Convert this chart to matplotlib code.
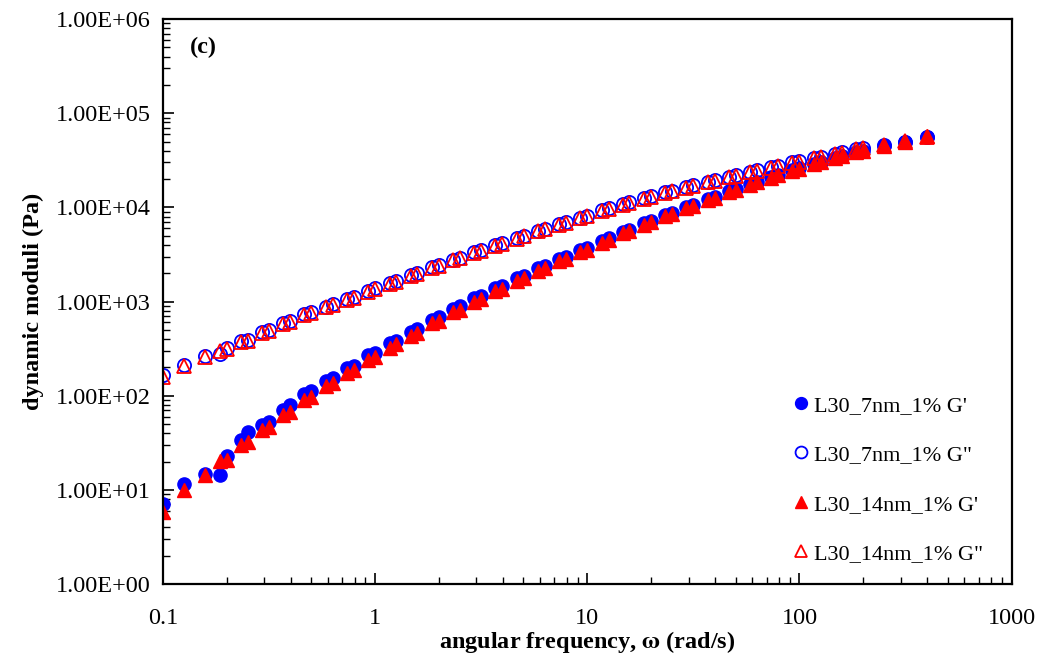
import matplotlib
matplotlib.use("Agg")
import matplotlib.pyplot as plt
from matplotlib.ticker import FuncFormatter, FixedLocator, LogLocator, NullFormatter

# angular frequency sweep (rad/s)
freq = [0.1, 0.126, 0.158, 0.185, 0.2, 0.233, 0.251, 0.293, 0.316, 0.369, 0.398,
        0.464, 0.501, 0.585, 0.631, 0.736, 0.794, 0.927, 1.0, 1.17, 1.26, 1.47,
        1.58, 1.85, 2.0, 2.33, 2.51, 2.93, 3.16, 3.69, 3.98, 4.64, 5.01, 5.85,
        6.31, 7.36, 7.94, 9.27, 10.0, 11.7, 12.6, 14.7, 15.8, 18.5, 20.0, 23.3,
        25.1, 29.3, 31.6, 36.9, 39.8, 46.4, 50.1, 58.5, 63.1, 73.6, 79.4, 92.7,
        100, 117, 126, 147, 158, 185, 200, 251, 316, 398]

# storage modulus G' (Pa)
g1_7nm = [7.0, 11.5, 14.8, 14.5, 23, 34, 41, 49, 52, 70, 80,
          105, 112, 145, 155, 195, 205, 270, 285, 360, 385, 480,
          510, 640, 680, 840, 890, 1080, 1140, 1380, 1460, 1760, 1860, 2250,
          2380, 2800, 2950, 3500, 3700, 4400, 4700, 5500, 5800, 6800, 7200, 8300,
          8800, 10000, 10600, 12200, 12900, 14800, 15600, 17700, 18700, 21000, 22200, 24800,
          26000, 29000, 30500, 33500, 35000, 38500, 40000, 44700, 49500, 56000]
g1_14nm = [5.8, 10.0, 14.5, 20.5, 21, 30, 32, 43, 46, 62, 68,
           90, 98, 128, 138, 175, 188, 240, 258, 325, 350, 435,
           465, 585, 625, 770, 820, 1000, 1060, 1290, 1370, 1660, 1760, 2130,
           2260, 2680, 2830, 3350, 3550, 4200, 4500, 5300, 5600, 6550, 6950, 8050,
           8550, 9750, 10400, 11900, 12600, 14500, 15300, 17400, 18400, 20700, 21900, 24500,
           25700, 28700, 30200, 33200, 34800, 38300, 39800, 45000, 50000, 57000]

# loss modulus G'' (Pa)
g2_7nm = [165, 210, 262, 280, 318, 378, 392, 470, 495, 590, 620,
          730, 770, 880, 940, 1060, 1120, 1290, 1380, 1560, 1650, 1900,
          2000, 2320, 2450, 2780, 2920, 3350, 3500, 3980, 4200, 4750, 5000, 5650,
          5950, 6650, 7000, 7800, 8200, 9300, 9800, 10900, 11400, 12500, 13100, 14400,
          15000, 16500, 17200, 18800, 19500, 21200, 22000, 23800, 24700, 26800, 27800, 30000,
          31000, 33500, 34700, 37200, 38500, 41500, 43000, 45500, 50000, 55500]
g2_14nm = [160, 208, 260, 300, 310, 372, 385, 462, 488, 580, 610,
           718, 758, 866, 925, 1045, 1100, 1270, 1355, 1535, 1620, 1870,
           1965, 2280, 2410, 2730, 2870, 3290, 3440, 3910, 4130, 4670, 4920, 5550,
           5850, 6540, 6880, 7670, 8070, 9150, 9640, 10700, 11200, 12300, 12900, 14200,
           14800, 16200, 16900, 18500, 19200, 20900, 21700, 23500, 24400, 26500, 27500, 29700,
           30700, 33200, 34400, 36900, 38200, 41200, 42700, 45500, 50500, 56500]

# axis decades
x_ticks = [0.1, 1, 10, 100, 1000]
y_ticks = [1, 10, 100, 1000, 10000, 100000, 1000000]

plt.rcParams['font.family'] = ['Liberation Serif', 'DejaVu Serif']
plt.rcParams['mathtext.fontset'] = 'stix'

fs = 17.5
fig = plt.figure(figsize=(10.45, 6.57), dpi=100)
ax = fig.add_axes([0.156, 0.111, 0.812, 0.860])

ms = 9.5
ax.plot(freq, g1_7nm, 'o', color='#0000FF', ms=ms, mec='#0000FF', label="L30_7nm_1% G'")
ax.plot(freq, g2_7nm, 'o', color='#0000FF', ms=ms, mfc='none', mec='#0000FF', mew=1.3,
        label='L30_7nm_1% G"')
ax.plot(freq, g1_14nm, '^', color='#FF0000', ms=ms, mec='#FF0000', label="L30_14nm_1% G'")
ax.plot(freq, g2_14nm, '^', color='#FF0000', ms=ms, mfc='none', mec='#FF0000', mew=1.3,
        label='L30_14nm_1% G"')

ax.set_xscale('log')
ax.set_yscale('log')
ax.set_xlim(0.1, 1000)
ax.set_ylim(1, 1e6)

# only label the decades inside the view, no stray labels beyond the limits
ax.xaxis.set_major_locator(FixedLocator(x_ticks))
ax.yaxis.set_major_locator(FixedLocator(y_ticks))
ax.xaxis.set_major_formatter(FuncFormatter(lambda v, p: f"{v:g}"))
ax.yaxis.set_major_formatter(FuncFormatter(lambda v, p: f"{v:.2E}"))
ax.xaxis.set_minor_locator(LogLocator(base=10, subs=range(2, 10), numticks=20))
ax.yaxis.set_minor_locator(LogLocator(base=10, subs=range(2, 10), numticks=20))
ax.xaxis.set_minor_formatter(NullFormatter())
ax.yaxis.set_minor_formatter(NullFormatter())

ax.tick_params(which='both', direction='in', top=False, right=False, labelsize=fs)
ax.tick_params(which='major', length=8, width=1.2)
ax.tick_params(which='minor', length=5, width=1.0)
ax.tick_params(axis='x', which='major', pad=17)
ax.tick_params(axis='y', which='major', pad=9)
for s in ax.spines.values():
    s.set_linewidth(1.6)

ax.set_xlabel(r'angular frequency, $\mathbf{\omega}$ (rad/s)', fontsize=fs,
              fontweight='bold', labelpad=0)
ax.set_ylabel('dynamic moduli (Pa)', fontsize=fs, fontweight='bold', labelpad=8)

ax.text(0.032, 0.95, '(c)', transform=ax.transAxes, fontsize=fs, fontweight='bold',
        va='center', ha='left')

ax.legend(loc='lower right', frameon=False, fontsize=16, labelspacing=1.3,
          handletextpad=0.05, handlelength=1.1, markerscale=0.9,
          bbox_to_anchor=(0.99, 0.0))

fig.savefig('out.png', dpi=100)
